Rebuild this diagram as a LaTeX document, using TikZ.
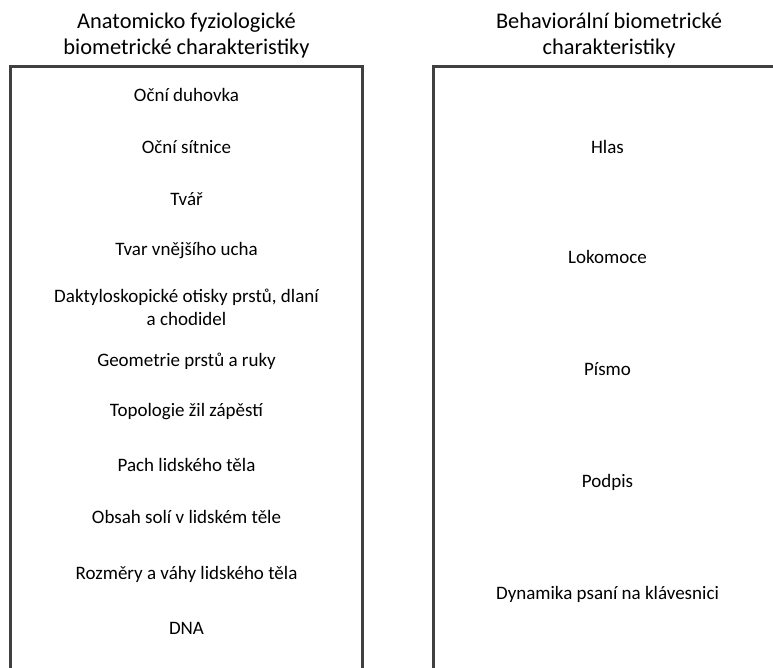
\documentclass[tikz,border=0pt]{standalone}
\usepackage{fontspec}
\setmainfont{Carlito}
\definecolor{frame}{HTML}{404040}
\begin{document}
\begin{tikzpicture}[x=1pt,y=-1pt,
  heading/.style={align=center,font=\fontsize{22.4}{25.5}\selectfont,inner sep=0pt},
  item/.style={align=center,font=\fontsize{19}{23}\selectfont,inner sep=0pt},
  frameline/.style={draw=frame,line width=2.4pt}]
\useasboundingbox (0,0) rectangle (773,668);
\clip (0,0) rectangle (773,668);

% column headings
\node[heading] (hA) at (186.5,35.5) {Anatomicko fyziologické\\biometrické charakteristiky};
\node[heading] (hB) at (609,35.5) {Behaviorální biometrické\\charakteristiky};

% open-bottom frames
\draw[frameline] (10.5,680) -- (10.5,66.5) -- (362.5,66.5) -- (362.5,680);
\draw[frameline] (433.5,680) -- (433.5,66.5) -- (790,66.5);

% anatomical-physiological characteristics
\node[item] (a1) at (186.5,95) {Oční duhovka};
\node[item] (a2) at (186.5,147) {Oční sítnice};
\node[item] (a3) at (186.5,199) {Tvář};
\node[item] (a4) at (186.5,251) {Tvar vnějšího ucha};
\node[item] (a5) at (186.5,307.5) {Daktyloskopické otisky prstů, dlaní\\a chodidel};
\node[item] (a6) at (186.5,361) {Geometrie prstů a ruky};
\node[item] (a7) at (186.5,412) {Topologie žil zápěstí};
\node[item] (a8) at (186.5,465) {Pach lidského těla};
\node[item] (a9) at (186.5,517) {Obsah solí v lidském těle};
\node[item] (a10) at (186.5,574) {Rozměry a váhy lidského těla};
\node[item] (a11) at (186.5,628) {DNA};

% behavioural characteristics
\node[item] (b1) at (607.5,147) {Hlas};
\node[item] (b2) at (607.5,257) {Lokomoce};
\node[item] (b3) at (607.5,369) {Písmo};
\node[item] (b4) at (607.5,482) {Podpis};
\node[item] (b5) at (607.5,594) {Dynamika psaní na klávesnici};
\end{tikzpicture}
\end{document}
